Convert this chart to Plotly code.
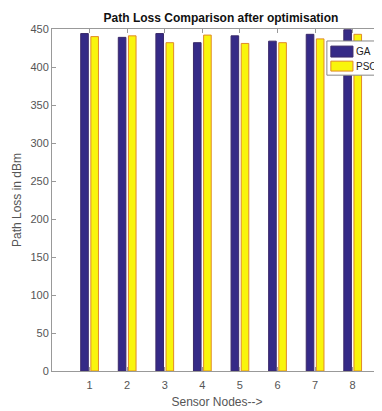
import plotly.graph_objects as go

nodes = [1, 2, 3, 4, 5, 6, 7, 8]
ga_loss = [444, 439, 444, 432, 441, 434, 443, 449]
pso_loss = [440, 441, 432, 442, 431, 432, 437, 443]
y_ticks = [0, 50, 100, 150, 200, 250, 300, 350, 400, 450]
series_names = ["GA", "PSO"]

FONT = "Liberation Sans, Arial, sans-serif"
GRAY = "#555555"
GA_FILL, GA_EDGE = "#352a87", "#3b2a6a"
PSO_FILL, PSO_EDGE = "#f9f50c", "#e08a2a"

fig = go.Figure()
fig.add_trace(go.Bar(x=nodes, y=ga_loss, name=series_names[0],
                     marker=dict(color=GA_FILL, line=dict(color=GA_EDGE, width=1))))
fig.add_trace(go.Bar(x=nodes, y=pso_loss, name=series_names[1],
                     marker=dict(color=PSO_FILL, line=dict(color=PSO_EDGE, width=1))))

# compact MATLAB-style legend box drawn over the plot
shapes = [
    dict(type="rect", xref="paper", yref="paper", x0=0.833, x1=0.991, y0=0.865, y1=0.965,
         fillcolor="white", line=dict(color="#888888", width=1), layer="above"),
    dict(type="rect", xref="paper", yref="paper", x0=0.845, x1=0.912, y0=0.918, y1=0.950,
         fillcolor=GA_FILL, line=dict(color=GA_EDGE, width=1), layer="above"),
    dict(type="rect", xref="paper", yref="paper", x0=0.845, x1=0.912, y0=0.877, y1=0.906,
         fillcolor=PSO_FILL, line=dict(color=PSO_EDGE, width=1), layer="above"),
]
annotations = [
    dict(text=series_names[0], xref="paper", yref="paper", x=0.916, y=0.934,
         xanchor="left", yanchor="middle", showarrow=False,
         font=dict(family=FONT, size=10, color="#222222")),
    dict(text=series_names[1], xref="paper", yref="paper", x=0.916, y=0.891,
         xanchor="left", yanchor="middle", showarrow=False,
         font=dict(family=FONT, size=10, color="#222222")),
]

# page body has an 8px margin; figure sized/margined to compensate
fig.update_layout(
    width=374, height=403,
    margin=dict(l=44, r=0, t=21, b=40, autoexpand=False),
    paper_bgcolor="white", plot_bgcolor="white",
    barmode="group", bargap=0.46, bargroupgap=0.25,
    font=dict(family=FONT, size=11, color=GRAY),
    title=dict(text="<b>Path Loss Comparison after optimisation</b>",
               font=dict(family=FONT, size=12, color="#111111"),
               x=0.512, xanchor="center", xref="paper",
               y=1 - 10 / 403, yanchor="middle", yref="container"),
    showlegend=False,
    shapes=shapes,
    annotations=annotations,
)
fig.update_xaxes(range=[0, 8.78], tickvals=nodes, ticktext=[str(n) for n in nodes],
                 automargin=False,
                 showgrid=False, zeroline=False, showline=True, linecolor="#999999",
                 linewidth=1, mirror="ticks", ticks="inside", ticklen=4, tickcolor="#999999",
                 ticklabelstandoff=4,
                 title=dict(text="Sensor Nodes-->", standoff=7, font=dict(size=12, color=GRAY)),
                 tickfont=dict(size=11, color=GRAY))
fig.update_yaxes(range=[0, 450], tickvals=y_ticks, showgrid=False, zeroline=False,
                 automargin=False,
                 showline=True, linecolor="#999999", linewidth=1, ticks="inside",
                 ticklen=4, tickcolor="#999999",
                 title=dict(text="Path Loss in dBm", standoff=6, font=dict(size=12, color=GRAY)),
                 tickfont=dict(size=11, color=GRAY))

fig.write_html("out.html")
